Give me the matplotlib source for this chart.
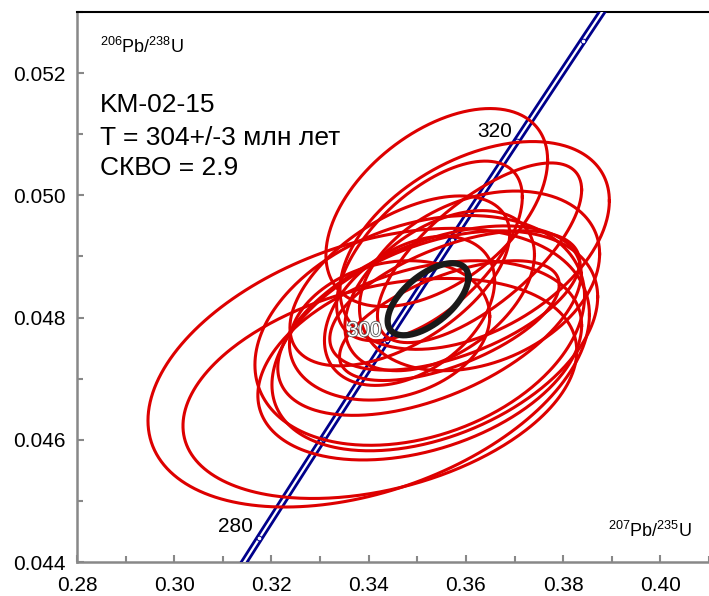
import numpy as np
import matplotlib
matplotlib.use("Agg")
import matplotlib.pyplot as plt
import matplotlib.patheffects as pe
from matplotlib.ticker import MultipleLocator

plt.rcParams['font.family'] = ['Liberation Sans', 'DejaVu Sans']
plt.rcParams['mathtext.fontset'] = 'custom'
plt.rcParams['mathtext.rm'] = 'Liberation Sans'
plt.rcParams['mathtext.it'] = 'Liberation Sans'

# decay constants (1/yr)
L235 = 9.8485e-10
L238 = 1.55125e-10

# analyses: 207Pb/235U, 206Pb/238U, 2-sigma half widths, error correlation
pb207_u235 = [0.3400, 0.3423, 0.3540, 0.3618, 0.3628, 0.3525, 0.3505, 0.3505,
              0.3536, 0.3525, 0.3484, 0.3546, 0.3577, 0.3464, 0.3628, 0.3443, 0.3566]
pb206_u238 = [0.04718, 0.04684, 0.04980, 0.04918, 0.04906, 0.04909, 0.04779, 0.04730,
              0.04762, 0.04795, 0.04811, 0.04844, 0.04828, 0.04860, 0.04860, 0.04779, 0.04795]
err_x = [0.0454, 0.0405, 0.0228, 0.0277, 0.0210, 0.0191, 0.0339, 0.0333,
         0.0335, 0.0312, 0.0175, 0.0195, 0.0257, 0.0226, 0.0247, 0.0206, 0.0226]
err_y = [0.00228, 0.00180, 0.00162, 0.00170, 0.00147, 0.00147, 0.00188, 0.00163,
         0.00180, 0.00155, 0.00122, 0.00131, 0.00114, 0.00139, 0.00147, 0.00114, 0.00098]
rho = [0.38, 0.34, 0.48, 0.43, 0.70, 0.60, 0.30, 0.35,
       0.40, 0.50, 0.40, 0.45, 0.55, 0.55, 0.30, 0.20, 0.60]

# concordia age ellipse
conc_x, conc_y = 0.3522, 0.04830
conc_ex, conc_ey, conc_rho = 0.0083, 0.00059, 0.60

age_ticks = [280, 290, 300, 310, 320, 330]
age_labels = [280, 300, 320]


def ellipse_xy(cx, cy, ex, ey, r, n=361):
    t = np.linspace(0, 2 * np.pi, n)
    x = cx + ex * np.cos(t)
    y = cy + ey * (r * np.cos(t) + np.sqrt(1 - r ** 2) * np.sin(t))
    return x, y


def concordia(t_ma):
    t = np.asarray(t_ma) * 1e6
    return np.exp(L235 * t) - 1, np.exp(L238 * t) - 1


fig = plt.figure(figsize=(7.09, 5.96), dpi=100)
ax = fig.add_axes([0.1086, 0.057, 0.8914, 0.9229])
ax.set_xlim(0.28, 0.41)
ax.set_ylim(0.044, 0.053)

# concordia band
cx_, cy_ = concordia(np.linspace(270, 340, 300))
ax.plot(cx_, cy_, color='#00008b', lw=5.6, zorder=3, solid_capstyle='butt')
ax.plot(cx_, cy_, color='white', lw=1.6, zorder=3.1)
mx, my = concordia(age_ticks)
ax.plot(mx, my, 'o', ms=3.4, mfc='white', mec='#00008b', mew=0.7, zorder=3.2)

# individual analyses
for i in range(len(pb207_u235)):
    ex, ey = ellipse_xy(pb207_u235[i], pb206_u238[i], err_x[i], err_y[i], rho[i])
    ax.plot(ex, ey, color='#dd0000', lw=2.2, zorder=4)

ex, ey = ellipse_xy(conc_x, conc_y, conc_ex, conc_ey, conc_rho)
ax.plot(ex, ey, color='#1a1a1a', lw=4.5, zorder=5)

# age labels along concordia
lx, ly = concordia(age_labels)
ax.annotate('280', (lx[0], ly[0]), xytext=(-5, 8), textcoords='offset points',
            ha='right', va='center', fontsize=15, zorder=6)
ax.annotate('300', (lx[1], ly[1]), xytext=(-3.5, 6.5), textcoords='offset points',
            ha='right', va='center', fontsize=15, color='white', zorder=6,
            path_effects=[pe.withStroke(linewidth=1.2, foreground='#555555')])
ax.annotate('320', (lx[2], ly[2]), xytext=(-3.5, 7), textcoords='offset points',
            ha='right', va='center', fontsize=15, zorder=6)

# axis titles and sample info
ax.text(0.036, 0.925, r'$^{206}$Pb/$^{238}$U', transform=ax.transAxes,
        fontsize=13, va='baseline', ha='left')
ax.text(0.973, 0.046, r'$^{207}$Pb/$^{235}$U', transform=ax.transAxes,
        fontsize=13, va='baseline', ha='right')
info_lines = ['KM-02-15', 'T = 304+/-3 млн лет', 'СКВО = 2.9']
info_y = [0.818, 0.758, 0.704]
for line, yy in zip(info_lines, info_y):
    ax.text(0.036, yy, line, transform=ax.transAxes, fontsize=19,
            va='baseline', ha='left')

# spines and ticks
for side in ('left', 'bottom'):
    ax.spines[side].set_color('#888888')
    ax.spines[side].set_linewidth(1.8)
ax.spines['top'].set_color('black')
ax.spines['top'].set_linewidth(1.5)
ax.spines['right'].set_visible(False)

ax.xaxis.set_major_locator(MultipleLocator(0.02))
ax.xaxis.set_minor_locator(MultipleLocator(0.01))
ax.yaxis.set_major_locator(MultipleLocator(0.002))
ax.yaxis.set_minor_locator(MultipleLocator(0.001))
ax.xaxis.set_major_formatter(plt.FuncFormatter(lambda v, p: f'{v:.2f}'))
ax.yaxis.set_major_formatter(plt.FuncFormatter(lambda v, p: f'{v:.3f}'))
ax.tick_params(which='both', direction='in', color='#888888', width=1.5,
               labelsize=15, top=False, right=False)
ax.tick_params(which='major', length=5)
ax.tick_params(which='minor', length=4)
ax.tick_params(axis='y', pad=8)
ax.tick_params(axis='x', pad=10)

fig.savefig('out.png', dpi=100)
